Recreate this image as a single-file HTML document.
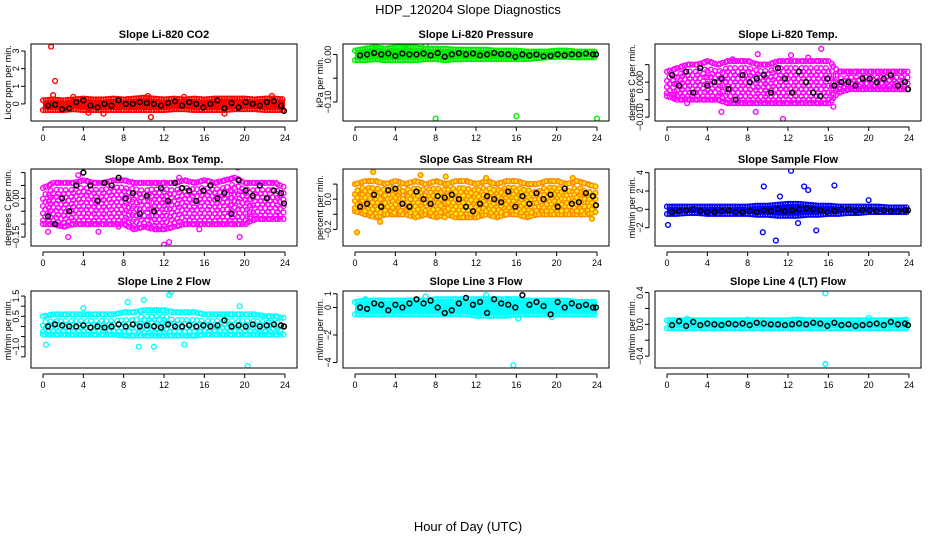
<!DOCTYPE html>
<html><head><meta charset="utf-8"><style>
body{margin:0;background:#fff;}
svg{display:block;font-family:"Liberation Sans",Arial,sans-serif;}
</style></head><body>
<svg id="c" width="936" height="540" viewBox="0 0 936 540">
<text x="468" y="14" text-anchor="middle" font-size="13">HDP_120204  Slope Diagnostics</text>
<text x="468" y="531" text-anchor="middle" font-size="13">Hour of Day (UTC)</text>
</svg>
<script>
const hours=[0,1,2,3,4,5,6,7,8,9,10,11,12,13,14,15,16,17,18,19,20,21,22,23,24];
const xTicks=[0,4,8,12,16,20,24];
const meanX=[0.5,1.2,1.9,2.6,3.3,4,4.7,5.4,6.1,6.8,7.5,8.2,8.9,9.6,10.3,11,11.7,12.4,13.1,13.8,14.5,15.2,15.9,16.6,17.3,18,18.7,19.4,20.1,20.8,21.5,22.2,22.9,23.6,23.9];
const titles=["Slope Li-820 CO2","Slope Li-820 Pressure","Slope Li-820 Temp.","Slope Amb. Box Temp.","Slope Gas Stream RH","Slope Sample Flow","Slope Line 2 Flow","Slope Line 3 Flow","Slope Line 4 (LT) Flow"];
const yLabels=["Licor ppm per min.","kPa per min.","degrees C per min.","degrees C per min.","percent per min.","ml/min per min.","ml/min per min.","ml/min per min.","ml/min per min."];
const yTicks=[[0,1,2,3],[0,-0.05,-0.1],[0.005,0,-0.005,-0.01],[0.1,0.05,0,-0.05,-0.1,-0.15],[0.1,0,-0.1,-0.2],[4,2,0,-2],[1.5,1,0.5,0,-0.5,-1,-1.5],[1,0,-2,-4],[0.4,0.2,0,-0.2,-0.4]];
const yTickLabels=[["0","1","2","3"],["0.00","","−0.10"],["","0.000","","−0.010"],["","","0.00","","","−0.15"],["","0.0","","−0.2"],["4","2","0","−2"],["1.5","","0.5","","","−1.0",""],["1","0","−2","−4"],["0.4","","0.0","","−0.4"]];
const yDomains=[[-0.97,3.4],[-0.14,0.022],[-0.0111,0.0109],[-0.185,0.114],[-0.31,0.2],[-4,4.4],[-2.05,1.75],[-4.4,1.2],[-0.55,0.42]];
const colors=["#ff0000","#00ee00","#ff00ff","#ff00ff","#ff8800","#0000ff","#00ffff","#00ffff","#00ffff"];
const sparse=[false,false,true,true,true,false,true,false,false];
const bandLo=[
[-0.35,-0.35,-0.35,-0.3,-0.35,-0.35,-0.35,-0.35,-0.35,-0.35,-0.35,-0.35,-0.35,-0.3,-0.3,-0.35,-0.35,-0.35,-0.35,-0.3,-0.3,-0.3,-0.35,-0.35,-0.35],
[-0.012,-0.012,-0.01,-0.012,-0.012,-0.012,-0.012,-0.01,-0.01,-0.012,-0.01,-0.01,-0.01,-0.01,-0.01,-0.01,-0.01,-0.01,-0.008,-0.006,-0.005,-0.005,-0.006,-0.006,-0.006],
[-0.004,-0.005,-0.005,-0.005,-0.005,-0.005,-0.006,-0.006,-0.006,-0.006,-0.006,-0.006,-0.006,-0.006,-0.006,-0.006,-0.006,-0.003,-0.002,-0.002,-0.002,-0.002,-0.002,-0.002,-0.002],
[-0.1,-0.1,-0.11,-0.1,-0.1,-0.1,-0.1,-0.1,-0.1,-0.12,-0.11,-0.12,-0.12,-0.11,-0.1,-0.1,-0.1,-0.1,-0.1,-0.1,-0.1,-0.08,-0.08,-0.08,-0.08],
[-0.08,-0.1,-0.12,-0.1,-0.1,-0.1,-0.12,-0.1,-0.12,-0.1,-0.12,-0.12,-0.12,-0.1,-0.12,-0.1,-0.1,-0.12,-0.1,-0.1,-0.1,-0.1,-0.1,-0.1,-0.08],
[-0.5,-0.5,-0.4,-0.4,-0.5,-0.5,-0.5,-0.5,-0.5,-0.6,-0.6,-0.7,-0.7,-0.7,-0.6,-0.6,-0.5,-0.5,-0.4,-0.4,-0.3,-0.3,-0.3,-0.3,-0.3],
[-0.4,-0.4,-0.4,-0.4,-0.4,-0.4,-0.4,-0.4,-0.45,-0.45,-0.45,-0.45,-0.45,-0.45,-0.45,-0.45,-0.4,-0.4,-0.4,-0.4,-0.4,-0.4,-0.4,-0.4,-0.4],
[-0.5,-0.5,-0.5,-0.5,-0.5,-0.5,-0.5,-0.5,-0.5,-0.5,-0.5,-0.5,-0.6,-0.6,-0.6,-0.6,-0.5,-0.5,-0.5,-0.5,-0.5,-0.5,-0.5,-0.5,-0.5],
[-0.05,-0.05,-0.05,-0.05,-0.05,-0.05,-0.05,-0.05,-0.05,-0.05,-0.05,-0.05,-0.05,-0.05,-0.05,-0.05,-0.05,-0.05,-0.05,-0.05,-0.05,-0.05,-0.05,-0.05,-0.05]];
const bandHi=[
[0.2,0.25,0.2,0.25,0.3,0.25,0.25,0.3,0.25,0.3,0.35,0.3,0.25,0.3,0.25,0.3,0.25,0.3,0.3,0.3,0.3,0.25,0.3,0.3,0.25],
[0.008,0.012,0.015,0.012,0.015,0.015,0.015,0.012,0.012,0.012,0.01,0.01,0.01,0.01,0.008,0.008,0.008,0.006,0.006,0.006,0.008,0.008,0.006,0.006,0.006],
[0.003,0.004,0.005,0.005,0.006,0.005,0.006,0.006,0.006,0.005,0.005,0.006,0.006,0.006,0.006,0.006,0.006,0.003,0.003,0.003,0.003,0.003,0.003,0.003,0.003],
[0.04,0.06,0.06,0.06,0.07,0.06,0.06,0.07,0.07,0.06,0.06,0.06,0.06,0.06,0.07,0.06,0.07,0.06,0.07,0.08,0.06,0.06,0.06,0.06,0.04],
[0.1,0.12,0.12,0.1,0.12,0.1,0.12,0.1,0.12,0.1,0.12,0.12,0.1,0.12,0.1,0.12,0.12,0.1,0.1,0.12,0.12,0.1,0.12,0.1,0.08],
[0.3,0.3,0.3,0.3,0.3,0.3,0.3,0.3,0.3,0.4,0.4,0.5,0.6,0.6,0.5,0.4,0.4,0.3,0.3,0.3,0.3,0.3,0.2,0.2,0.2],
[0.5,0.6,0.6,0.6,0.6,0.6,0.6,0.6,0.7,0.7,0.8,0.8,0.8,0.7,0.7,0.7,0.6,0.6,0.6,0.6,0.6,0.6,0.5,0.5,0.4],
[0.4,0.5,0.5,0.5,0.5,0.5,0.5,0.5,0.6,0.6,0.6,0.6,0.6,0.6,0.6,0.6,0.6,0.5,0.5,0.5,0.5,0.5,0.4,0.4,0.4],
[0.05,0.05,0.05,0.05,0.05,0.05,0.05,0.05,0.05,0.05,0.05,0.05,0.05,0.06,0.05,0.05,0.05,0.05,0.05,0.05,0.05,0.05,0.05,0.05,0.06]];
const outX=[
[0.8,1.2,1.0,10.7,4.5,18,6,10.4,22.7,3,14],
[8,16,24,2,5,7],
[11.5,15.3,12.3,8.8,2,5.4,6.5,9,16.5,0.7,14],
[0.5,2.5,3.5,5.5,7.5,12,12.5,15.5,19.3,19.5,10.5,13.5],
[0.2,1.8,2.5,3.9,8.9,23.5,21.6,6.5,15,9,13],
[0.1,9.5,10.8,11.2,12.3,13.6,14.0,14.8,16.6,20,9.6,13],
[0.3,10,12.5,12.7,20.3,8.4,9.5,11,19.5,14,4],
[15.7,16.2,1,7,19.5,13],
[15.7,15.7,2,20,8]];
const outY=[
[3.25,1.3,0.5,-0.75,-0.5,-0.55,-0.55,0.45,0.45,0.4,0.4],
[-0.135,-0.13,-0.135,0.02,0.02,0.02],
[-0.0105,0.0095,0.0077,-0.0085,-0.006,-0.0085,0.0065,0.008,-0.007,-0.004,0.007],
[-0.13,-0.15,0.09,-0.13,-0.11,-0.18,-0.17,-0.12,0.12,-0.15,-0.1,0.08],
[-0.22,0.18,-0.15,-0.09,-0.12,-0.13,0.14,0.16,-0.1,0.15,0.14],
[-1.7,-2.5,-3.4,1.4,4.2,2.5,2.1,-2.3,2.6,1,2.5,-1.5],
[-0.9,1.3,1.55,1.7,-1.95,1.2,-1.0,-1.0,1.0,-0.9,0.9],
[-4.2,-0.8,0.6,0.8,-0.7,0.9],
[0.39,-0.5,0.07,0.08,0.06]];
const meanY=[
[-0.1,-0.05,-0.3,-0.25,0.1,0.2,-0.1,-0.2,0.0,-0.1,0.2,0.0,0.0,0.1,0.05,0.0,-0.1,0.05,0.15,-0.1,0.1,0.0,-0.2,0.0,0.2,-0.25,0.05,-0.2,0.1,0.0,-0.1,0.1,0.15,-0.1,-0.4],
[-0.002,0.0,0.003,0.0,0.002,-0.003,0.002,0.0,0.0,0.002,-0.002,0.003,-0.005,0.0,0.003,0.0,0.002,-0.002,0.0,0.003,0.001,0.0,-0.005,0.0,-0.002,0.0,-0.004,-0.003,0.0,-0.002,0.0,0.0,0.002,0.0,0.0],
[0.002,-0.001,0.003,-0.003,0.004,-0.001,0.0,0.001,-0.002,-0.005,0.002,0.0,0.001,0.002,-0.003,0.004,0.001,-0.003,0.003,0.0,-0.003,-0.004,0.001,-0.001,0.0,0.0,-0.001,0.001,0.001,0.0,0.001,0.002,-0.001,0.0,-0.002],
[-0.07,-0.1,0.0,-0.05,0.05,0.1,0.05,-0.01,0.06,0.05,0.08,0.0,0.02,-0.06,0.01,-0.05,0.04,-0.01,0.06,0.04,0.03,-0.01,0.03,0.05,0.0,0.02,-0.06,0.07,0.03,0.01,0.05,0.0,0.03,0.02,-0.02],
[-0.05,-0.03,0.03,-0.05,0.06,0.07,-0.03,-0.05,0.05,0.0,-0.03,0.02,0.01,0.03,0.0,-0.05,-0.08,-0.03,0.02,0.0,-0.02,0.05,-0.05,0.02,-0.03,0.04,0.0,0.03,-0.05,0.07,-0.03,-0.02,0.04,0.02,-0.04],
[-0.3,-0.2,-0.1,0.0,-0.2,-0.3,-0.3,-0.2,-0.1,-0.3,-0.3,-0.2,-0.3,-0.1,-0.2,0.0,-0.2,-0.1,0.0,0.1,0.0,-0.1,-0.3,-0.2,0.0,0.0,-0.2,-0.1,-0.1,-0.2,-0.1,-0.2,-0.2,-0.1,-0.1],
[0.0,0.1,0.05,0.0,0.0,0.05,-0.05,0.0,-0.05,0.0,0.1,0.0,0.1,0.0,0.05,0.0,-0.05,0.1,0.0,0.0,0.05,0.0,0.05,0.0,0.05,0.3,0.0,0.05,0.0,0.1,0.0,0.05,0.1,0.05,0.0],
[0.0,-0.1,0.3,0.2,-0.2,0.2,0.0,0.3,0.6,0.3,0.5,0.0,-0.4,-0.2,0.3,0.7,0.2,0.4,-0.4,0.6,0.3,0.2,0.0,0.9,0.2,0.4,0.1,-0.5,0.4,0.0,0.3,0.1,0.2,0.0,0.0],
[-0.01,0.04,-0.02,0.03,-0.01,0.01,0.0,-0.01,0.01,0.0,0.01,-0.01,0.02,0.01,0.0,0.0,-0.01,0.0,0.01,0.0,0.02,0.01,-0.02,0.02,-0.01,0.0,-0.02,-0.01,0.0,0.01,-0.01,0.03,0.0,0.01,-0.01]];
const colLeft=[31,343,655], rowTop=[44,169,291], W=266, H=77;
const NS="http://www.w3.org/2000/svg";
const svg=document.getElementById('c');
function mk(tag,attrs,parent){const e=document.createElementNS(NS,tag);for(const k in attrs)e.setAttribute(k,attrs[k]);(parent||svg).appendChild(e);return e;}
for(let p=0;p<9;p++){
  const L=colLeft[p%3],T=rowTop[Math.floor(p/3)];
  const g=mk('g',{});
  
  
  const xs=h=>L+12+h*(W-24)/24;
  const [d0,d1]=yDomains[p];
  const ys=v=>T+H-(v-d0)/(d1-d0)*H;
  const t=mk('text',{x:L+W/2,y:T-6,'text-anchor':'middle','font-size':'11','font-weight':'bold'},g);t.textContent=titles[p];
  
  
  const yl=mk('text',{x:0,y:0,transform:`translate(${L-20},${T+H/2}) rotate(-90)`,'text-anchor':'middle','font-size':'9'},g);yl.textContent=yLabels[p];
  
  
  const clip=mk('clipPath',{id:'cp'+p},g);mk('rect',{x:L,y:T,width:W,height:H},clip);
  const pg=mk('g',{'clip-path':`url(#cp${p})`},g);
  const col=colors[p], fill=p===4?'#ffee00':'none';
  if(!sparse[p]){
    let pts=hours.map((h,i)=>xs(h)+','+ys(bandHi[p][i])).join(' ')+' '+hours.slice().reverse().map((h,j)=>xs(h)+','+ys(bandLo[p][24-j])).join(' ');
    const band=mk('polygon',{points:pts,fill:col},pg);
    
    
  }
  let k=0;
  for(let i=0;i<24;i++){for(let f=0;f<1;f+=0.25){const h=i+f;k++;
    const lo=bandLo[p][i]+(bandLo[p][i+1]-bandLo[p][i])*f, hi=bandHi[p][i]+(bandHi[p][i+1]-bandHi[p][i])*f;
    const vals=[lo,hi];
    if(sparse[p]){const y0=ys(hi),y1=ys(lo);const n=Math.max(1,Math.round((y1-y0)/7));
      for(let s=1;s<n;s++){const fr=(s+((k%2)?0.5:0))/n; if(fr<1) vals.push(hi+(lo-hi)*fr);}}
    for(const v of vals){const c=mk('circle',{cx:xs(h+((sparse[p]&&k%3===0)?0.1:0)),cy:ys(v),r:2.4,fill:fill,stroke:col,'stroke-width':1.4},pg);
      
      }}}
  outX[p].forEach((x,i)=>{const c=mk('circle',{cx:xs(x),cy:ys(outY[p][i]),r:2.4,fill:fill,stroke:col,'stroke-width':1.4},pg);
    
    });
  meanX.forEach((x,i)=>{const c=mk('circle',{cx:xs(x),cy:ys(meanY[p][i]),r:2.4,fill:'none',stroke:'#000','stroke-width':1.5},pg);
    
    });
  const box=mk('rect',{x:L,y:T,width:W,height:H,fill:'none',stroke:'#000','stroke-width':1},g);
  
  
  mk('line',{x1:xs(0),x2:xs(24),y1:T+H+6,y2:T+H+6,stroke:'#000'},g);
  xTicks.forEach(h=>{mk('line',{x1:xs(h),x2:xs(h),y1:T+H+6,y2:T+H+10,stroke:'#000'},g);
    const tx=mk('text',{x:xs(h),y:T+H+20,'text-anchor':'middle','font-size':'9'},g);tx.textContent=h;
    
    });
  const tk=yTicks[p];
  mk('line',{x1:L-6,x2:L-6,y1:ys(tk[0]),y2:ys(tk[tk.length-1]),stroke:'#000'},g);
  tk.forEach((v,i)=>{mk('line',{x1:L-10,x2:L-6,y1:ys(v),y2:ys(v),stroke:'#000'},g);
    const lab=yTickLabels[p][i];if(lab){const tx=mk('text',{x:0,y:0,transform:`translate(${L-12},${ys(v)}) rotate(-90)`,'text-anchor':'middle','font-size':'9'},g);tx.textContent=lab;
    
    }});
}
</script>
</body></html>
